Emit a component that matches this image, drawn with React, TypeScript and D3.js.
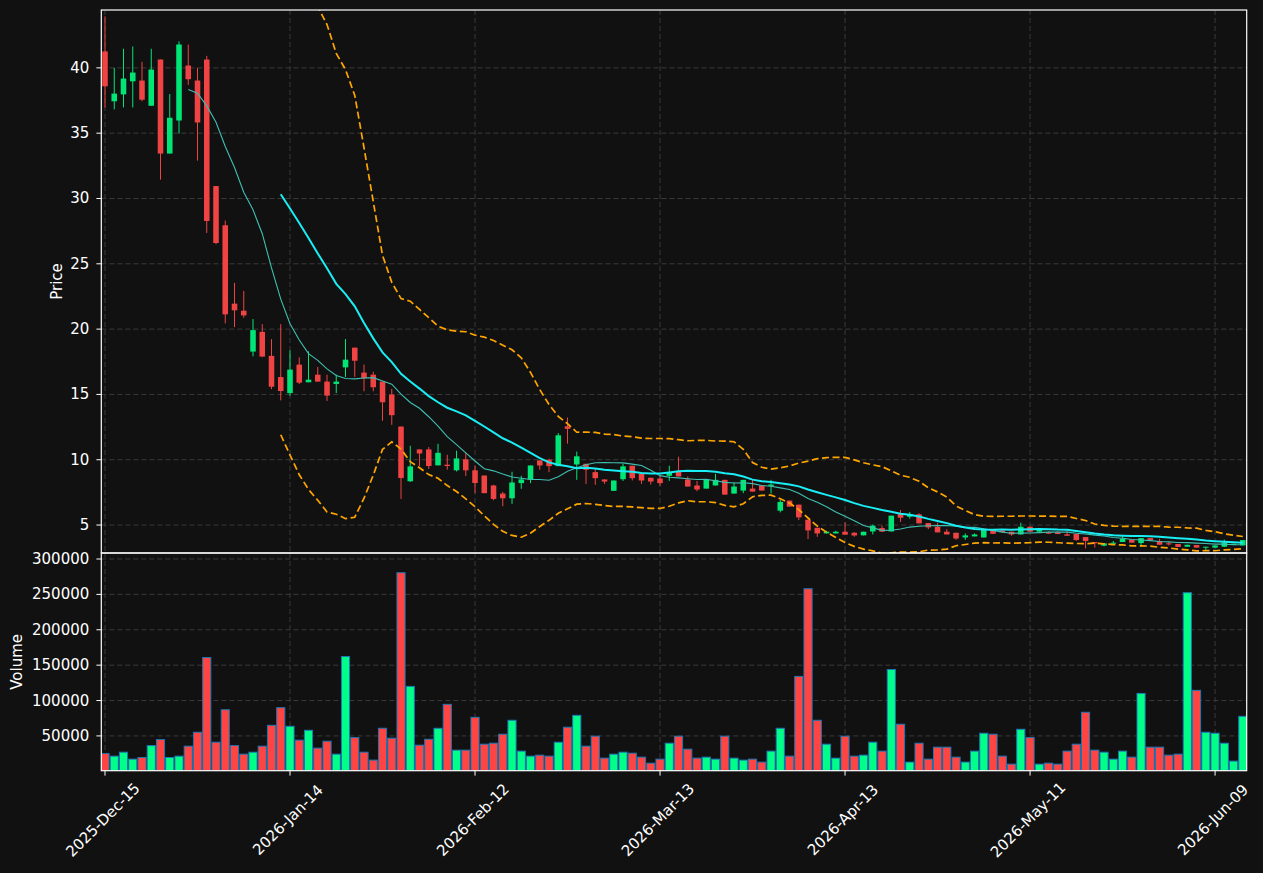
import * as d3 from 'd3';

// OHLC, one entry per trading day (index 0 = 2025-Dec-15)
const opens = [
  41.26, 37.44, 37.97, 38.97, 39.03, 37.1, 40.64, 33.44, 35.97, 40.18,
  39.03, 40.64, 30.95, 27.95, 21.95, 21.41, 18.28, 19.79, 17.95, 16.33,
  15.1, 17.28, 15.93, 16.51, 15.98, 15.8, 17.07, 18.58, 16.67, 16.51,
  15.98, 14.99, 12.54, 8.35, 10.79, 10.79, 9.57, 9.62, 9.19, 10.03,
  9.19, 8.79, 8.03, 7.41, 7.05, 8.21, 8.49, 9.95, 10.0, 9.51,
  12.56, 9.64, 9.69, 9.05, 8.49, 7.62, 8.51, 9.54, 8.92, 8.62,
  8.56, 8.77, 9.08, 8.49, 8.03, 7.79, 8.03, 8.46, 7.41, 7.64,
  7.79, 8.03, 8.0, 6.1, 6.87, 6.56, 5.41, 4.79, 4.36, 4.36,
  4.49, 4.41, 4.21, 4.51, 4.77, 4.51, 5.9, 5.64, 5.82, 5.15,
  4.87, 4.49, 4.41, 4.05, 4.13, 4.05, 4.62, 4.59, 4.49, 4.28,
  4.87, 4.49, 4.46, 4.44, 4.29, 4.31, 4.08, 3.7, 3.42, 3.57,
  3.7, 3.88, 3.62, 4.0, 3.78, 3.6, 3.55, 3.34, 3.47, 3.27,
  3.27, 3.34, 3.47, 3.44,
];
const highs = [
  43.95, 40.0, 41.46, 41.64, 40.46, 41.46, 40.64, 38.0, 42.03, 41.79,
  40.0, 40.92, 30.95, 28.31, 23.54, 22.92, 20.77, 20.38, 19.23, 20.38,
  18.37, 17.84, 18.3, 17.1, 16.51, 16.51, 19.24, 18.58, 17.28, 16.74,
  15.98, 15.42, 12.54, 11.07, 10.79, 10.97, 11.22, 10.38, 10.69, 10.51,
  9.57, 8.79, 8.08, 7.54, 9.08, 8.77, 9.56, 9.95, 10.08, 12.05,
  13.23, 10.62, 9.69, 9.31, 8.49, 8.41, 9.69, 9.54, 8.92, 8.62,
  8.77, 9.54, 10.23, 8.72, 8.38, 8.49, 8.92, 8.46, 8.28, 8.46,
  8.46, 8.03, 8.46, 6.92, 6.87, 6.56, 5.41, 4.79, 4.56, 4.56,
  5.21, 4.46, 4.49, 5.03, 4.95, 5.72, 6.15, 6.0, 5.9, 5.15,
  5.18, 4.69, 4.41, 4.36, 4.36, 4.69, 4.62, 4.62, 4.49, 5.18,
  4.87, 4.62, 4.5, 4.54, 4.59, 4.31, 4.08, 3.7, 3.6, 3.78,
  4.11, 3.88, 4.0, 4.0, 3.95, 3.72, 3.55, 3.49, 3.47, 3.34,
  3.44, 3.88, 3.57, 3.85,
];
const lows = [
  36.97, 36.82, 36.97, 36.97, 37.44, 37.1, 31.44, 33.44, 34.97, 38.69,
  32.9, 27.36, 26.5, 20.44, 20.15, 20.87, 17.92, 17.85, 15.41, 14.54,
  14.9, 15.8, 15.93, 15.98, 14.5, 15.11, 16.34, 16.34, 15.24, 15.24,
  12.98, 12.67, 7.0, 8.3, 9.52, 9.3, 9.57, 9.24, 9.1, 8.75,
  7.46, 7.44, 6.9, 6.44, 6.62, 7.77, 8.21, 9.23, 9.05, 9.51,
  11.23, 8.46, 8.15, 8.08, 8.15, 7.62, 8.38, 8.41, 8.15, 8.1,
  8.0, 8.38, 8.72, 7.95, 7.59, 7.79, 8.03, 7.33, 7.41, 7.44,
  7.56, 7.64, 7.41, 5.97, 6.41, 5.38, 3.92, 4.1, 4.36, 4.36,
  4.26, 4.1, 4.21, 4.28, 4.49, 4.51, 5.23, 5.49, 5.13, 4.69,
  4.44, 4.28, 3.87, 3.87, 4.13, 4.05, 4.33, 4.44, 4.18, 4.28,
  4.49, 4.49, 4.34, 4.31, 4.18, 3.8, 3.21, 3.27, 3.37, 3.57,
  3.7, 3.65, 3.34, 3.85, 3.49, 3.44, 3.32, 3.34, 3.27, 3.1,
  3.27, 3.34, 3.47, 3.44,
];
const closes = [
  38.59, 38.03, 39.18, 39.64, 37.56, 39.87, 33.44, 36.18, 41.79, 39.13,
  35.82, 28.28, 26.59, 21.13, 21.44, 21.05, 19.92, 17.9, 15.59, 15.26,
  16.9, 15.9, 16.13, 15.98, 14.91, 15.98, 17.66, 17.58, 16.23, 15.55,
  14.4, 13.41, 8.6, 9.49, 10.48, 9.52, 10.53, 9.52, 10.1, 9.19,
  8.22, 7.44, 7.0, 7.05, 8.26, 8.49, 9.56, 9.56, 9.51, 11.87,
  12.36, 10.26, 9.23, 8.59, 8.33, 8.41, 9.49, 8.59, 8.41, 8.33,
  8.21, 9.05, 8.72, 7.95, 7.72, 8.49, 8.46, 7.33, 7.95, 8.46,
  7.56, 7.64, 8.1, 6.77, 6.41, 5.59, 4.59, 4.36, 4.49, 4.49,
  4.26, 4.2, 4.49, 4.95, 4.49, 5.72, 5.56, 5.79, 5.13, 4.82,
  4.44, 4.28, 3.97, 4.21, 4.28, 4.69, 4.33, 4.46, 4.28, 4.87,
  4.49, 4.62, 4.34, 4.31, 4.18, 3.85, 3.78, 3.6, 3.6, 3.65,
  3.95, 3.65, 4.0, 3.85, 3.49, 3.52, 3.32, 3.49, 3.27, 3.34,
  3.44, 3.65, 3.57, 3.85,
];
const volumes = [
  25100, 21400, 27000, 17200, 19500, 36300, 44800, 19500, 21400, 35500,
  55200, 160800, 41100, 87000, 36300, 24200, 27000, 35500, 65000, 89900,
  63600, 44000, 58000, 32700, 42500, 24200, 162200, 47600, 27000, 15800,
  60800, 46800, 280600, 120000, 36900, 45300, 60800, 94600, 29900, 29900,
  76300, 38300, 39700, 52400, 72100, 28500, 21400, 22800, 21400, 41100,
  62300, 79100, 35500, 49600, 18600, 24200, 27000, 25600, 20000, 11500,
  17200, 39700, 49600, 31300, 18600, 20000, 17200, 49600, 18600, 15800,
  17200, 13000, 28500, 60800, 21400, 134100, 258000, 72100, 38300, 18600,
  49600, 21400, 22800, 41100, 28500, 143900, 66500, 13000, 39700, 17200,
  34100, 34100, 20000, 13000, 28500, 53800, 52400, 21400, 10100, 59400,
  47600, 10100, 11500, 10100, 28500, 38300, 83400, 29900, 27000, 17200,
  28500, 20000, 110100, 34100, 34100, 22800, 24200, 252400, 114400, 55200,
  53800, 39700, 14400, 77700,
];

const tickIndex = [0, 20, 40, 60, 80, 100, 120];
const tickLabels = ['2025-Dec-15', '2026-Jan-14', '2026-Feb-12', '2026-Mar-13', '2026-Apr-13', '2026-May-11', '2026-Jun-09'];
const priceTicks = [5, 10, 15, 20, 25, 30, 35, 40];
const volumeTicks = [50000, 100000, 150000, 200000, 250000, 300000];

function rolling(arr: number[], n: number, f: (w: number[]) => number) {
  return arr.map((_, i) => (i < n - 1 ? null : f(arr.slice(i - n + 1, i + 1))));
}

// population standard deviation
function pstd(w: number[]) {
  const m = d3.mean(w) as number;
  return Math.sqrt(d3.mean(w, (v) => (v - m) * (v - m)) as number);
}

export default function App() {
  const width = 1263;
  const height = 873;
  const left = 101.3;
  const right = 1246.7;
  const pTop = 10;
  const pBottom = 553;
  const vTop = 553;
  const vBottom = 770.7;

  const bg = '#111111';
  const gridColor = '#3a3a3a';
  const upColor = '#00e676';
  const downColor = '#f04343';
  const font = "'DejaVu Sans', sans-serif";
  const fs = 15;

  const x = d3.scaleLinear().domain([-0.4, 123.42]).range([left, right]);
  const yP = d3.scaleLinear().domain([2.86, 44.43]).range([pBottom, pTop]);
  const yV = d3.scaleLinear().domain([850, 308500]).range([vBottom, vTop]);
  const step = x(1) - x(0);

  // indicators
  const ma10 = rolling(closes, 10, (w) => d3.mean(w) as number);
  const ma20 = rolling(closes, 20, (w) => d3.mean(w) as number);
  const sd20 = rolling(closes, 20, pstd);
  const upper = ma20.map((m, i) => (m == null ? null : m + 2 * (sd20[i] as number)));
  const lower = ma20.map((m, i) => (m == null ? null : m - 2 * (sd20[i] as number)));

  const line = d3
    .line<number | null>()
    .defined((d) => d != null)
    .x((_, i) => x(i))
    .y((d) => yP(d as number));

  const bodyW = step * 0.6;
  const volW = step * 0.88;

  return (
    <svg
      width={width}
      height={height}
      style={{ position: 'absolute', left: 0, top: 0, display: 'block', background: bg }}
    >
      <defs>
        <clipPath id="pclip">
          <rect x={left} y={pTop} width={right - left} height={pBottom - pTop} />
        </clipPath>
        <clipPath id="vclip">
          <rect x={left} y={vTop} width={right - left} height={vBottom - vTop} />
        </clipPath>
      </defs>
      <rect x={0} y={0} width={width} height={height} fill={bg} />

      {/* grid */}
      <g stroke={gridColor} strokeWidth={1} strokeDasharray="5,3">
        {priceTicks.map((t) => (
          <line key={'pg' + t} x1={left} x2={right} y1={yP(t)} y2={yP(t)} />
        ))}
        {volumeTicks.map((t) => (
          <line key={'vg' + t} x1={left} x2={right} y1={yV(t)} y2={yV(t)} />
        ))}
        {tickIndex.map((t) => (
          <g key={'xg' + t}>
            <line x1={x(t)} x2={x(t)} y1={pTop} y2={pBottom} />
            <line x1={x(t)} x2={x(t)} y1={vTop} y2={vBottom} />
          </g>
        ))}
      </g>

      {/* candles */}
      <g clipPath="url(#pclip)">
        {closes.map((c, i) => {
          const o = opens[i];
          const col = c >= o ? upColor : downColor;
          const yTop = yP(Math.max(o, c));
          const h = Math.max(1, yP(Math.min(o, c)) - yTop);
          return (
            <g key={'c' + i}>
              <line x1={x(i)} x2={x(i)} y1={yP(highs[i])} y2={yP(lows[i])} stroke={col} strokeWidth={1} />
              <rect x={x(i) - bodyW / 2} y={yTop} width={bodyW} height={h} fill={col} />
            </g>
          );
        })}
        <path d={line(ma10) || ''} fill="none" stroke="#3fbfb2" strokeWidth={1.1} />
        <path d={line(ma20) || ''} fill="none" stroke="#19eef5" strokeWidth={2} />
        <path d={line(upper) || ''} fill="none" stroke="#ffa500" strokeWidth={1.7} strokeDasharray="7,3.5" />
        <path d={line(lower) || ''} fill="none" stroke="#ffa500" strokeWidth={1.7} strokeDasharray="7,3.5" />
      </g>

      {/* volume */}
      <g clipPath="url(#vclip)">
        {volumes.map((v, i) => (
          <rect
            key={'v' + i}
            x={x(i) - volW / 2}
            y={yV(v)}
            width={volW}
            height={vBottom - yV(v)}
            fill={closes[i] >= opens[i] ? '#00ff88' : '#ff4444'}
            stroke="#1f77b4"
            strokeWidth={1}
          />
        ))}
      </g>

      {/* spines */}
      <rect x={left} y={pTop} width={right - left} height={pBottom - pTop} fill="none" stroke="white" strokeWidth={1.2} />
      <rect x={left} y={vTop} width={right - left} height={vBottom - vTop} fill="none" stroke="white" strokeWidth={1.2} />

      {/* axes text */}
      <g fontFamily={font} fontSize={fs} fill="white">
        {priceTicks.map((t) => (
          <g key={'pt' + t}>
            <line x1={left - 4.9} x2={left} y1={yP(t)} y2={yP(t)} stroke="white" strokeWidth={1} />
            <text x={left - 12} y={yP(t)} textAnchor="end" dominantBaseline="central">
              {t}
            </text>
          </g>
        ))}
        {volumeTicks.map((t) => (
          <g key={'vt' + t}>
            <line x1={left - 4.9} x2={left} y1={yV(t)} y2={yV(t)} stroke="white" strokeWidth={1} />
            <text x={left - 12} y={yV(t)} textAnchor="end" dominantBaseline="central">
              {t}
            </text>
          </g>
        ))}
        {tickIndex.map((t, k) => (
          <g key={'xt' + t}>
            <line x1={x(t)} x2={x(t)} y1={vBottom} y2={vBottom + 4.9} stroke="white" strokeWidth={1} />
            <text
              transform={`translate(${x(t) - 2},${820}) rotate(-45)`}
              textAnchor="middle"
              dominantBaseline="central"
            >
              {tickLabels[k]}
            </text>
          </g>
        ))}
        <text transform={`translate(57,${(pTop + pBottom) / 2}) rotate(-90)`} textAnchor="middle" dominantBaseline="central">
          Price
        </text>
        <text transform={`translate(17,${(vTop + vBottom) / 2}) rotate(-90)`} textAnchor="middle" dominantBaseline="central">
          Volume
        </text>
      </g>
    </svg>
  );
}
